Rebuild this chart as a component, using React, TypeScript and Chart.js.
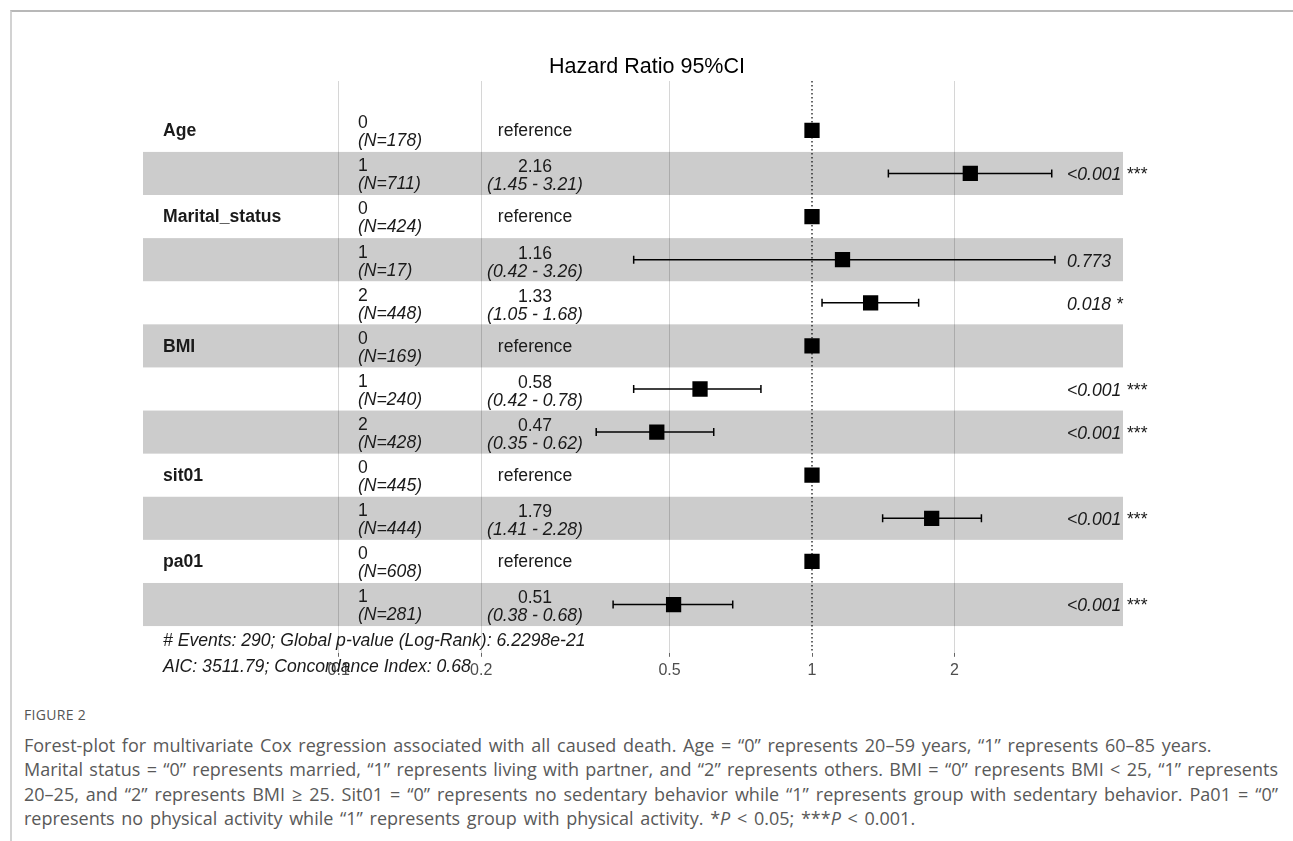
import React, { useEffect, useRef } from "react";
import { Chart, registerables } from "chart.js";

Chart.register(...registerables);

// ---------- data ----------
const varNames = ["Age", "", "Marital_status", "", "", "BMI", "", "", "sit01", "", "pa01", ""];
const levels = ["0", "1", "0", "1", "2", "0", "1", "2", "0", "1", "0", "1"];
const nCounts = [178, 711, 424, 17, 448, 169, 240, 428, 445, 444, 608, 281];
const hazardRatios = [1, 2.16, 1, 1.16, 1.33, 1, 0.58, 0.47, 1, 1.79, 1, 0.51];
const ciLow: (number | null)[] = [null, 1.45, null, 0.42, 1.05, null, 0.42, 0.35, null, 1.41, null, 0.38];
const ciHigh: (number | null)[] = [null, 3.21, null, 3.26, 1.68, null, 0.78, 0.62, null, 2.28, null, 0.68];
const pValues = ["", "<0.001", "", "0.773", "0.018", "", "<0.001", "<0.001", "", "<0.001", "", "<0.001"];
const stars = ["", "***", "", "", "*", "", "***", "***", "", "***", "", "***"];
const tickValues = [0.1, 0.2, 0.5, 1, 2];
const tickLabels = ["0.1", "0.2", "0.5", "1", "2"];
const titleText = "Hazard Ratio 95%CI";
const footerLines = [
  "# Events: 290; Global p-value (Log-Rank): 6.2298e-21",
  "AIC: 3511.79; Concordance Index: 0.68",
];

const X_MIN = 0.0386;
const X_MAX = 4.54;
const Y_MIN = -1.145;
const Y_MAX = 12.12;

const FONT = '"Liberation Sans", Arial, sans-serif';
const FS = 17.6;

export default function App() {
  const canvasRef = useRef<HTMLCanvasElement | null>(null);

  useEffect(() => {
    const canvas = canvasRef.current;
    if (!canvas) return;

    const rows = hazardRatios.map((_, i) => i);

    const ciDatasets: any[] = rows
      .filter((i) => ciLow[i] != null && ciHigh[i] != null)
      .map((i) => ({
        type: "line",
        data: [
          { x: ciLow[i], y: i },
          { x: ciHigh[i], y: i },
        ],
        showLine: true,
        borderColor: "#000",
        borderWidth: 1.5,
        pointStyle: "line",
        rotation: 90,
        pointRadius: 4,
        pointBorderWidth: 1.5,
        pointBorderColor: "#000",
        pointBackgroundColor: "#000",
        order: 1,
      }));

    const bandPlugin = {
      id: "bands",
      beforeDatasetsDraw(chart: any) {
        const { ctx, chartArea, scales } = chart;
        const y = scales.y;
        ctx.save();
        ctx.fillStyle = "rgba(0,0,0,0.2)";
        rows.forEach((i) => {
          if (i % 2 === 1) {
            const top = y.getPixelForValue(i - 0.5);
            const bot = y.getPixelForValue(i + 0.5);
            ctx.fillRect(chartArea.left, top, chartArea.right - chartArea.left, bot - top);
          }
        });
        ctx.restore();
      },
    };

    const textPlugin = {
      id: "tableText",
      afterDraw(chart: any) {
        const { ctx, chartArea, scales } = chart;
        const y = scales.y;
        const L = chartArea.left;
        const xVar = L + 20;
        const xLevel = L + 215;
        const xEst = L + 392;
        const xP = L + 924;
        ctx.save();
        ctx.textBaseline = "middle";
        ctx.fillStyle = "#1a1a1a";
        rows.forEach((i) => {
          const cy = y.getPixelForValue(i);
          if (varNames[i]) {
            ctx.font = `bold ${FS}px ${FONT}`;
            ctx.textAlign = "left";
            ctx.fillText(varNames[i], xVar, cy + 1);
          }
          ctx.textAlign = "left";
          ctx.font = `${FS}px ${FONT}`;
          ctx.fillText(levels[i], xLevel, cy - 7);
          ctx.font = `italic ${FS}px ${FONT}`;
          ctx.fillText(`(N=${nCounts[i]})`, xLevel, cy + 11);
          ctx.textAlign = "center";
          if (ciLow[i] == null) {
            ctx.font = `${FS}px ${FONT}`;
            ctx.fillText("reference", xEst, cy + 1);
          } else {
            ctx.font = `${FS}px ${FONT}`;
            ctx.fillText(hazardRatios[i].toFixed(2), xEst, cy - 6);
            ctx.font = `italic ${FS}px ${FONT}`;
            ctx.fillText(`(${(ciLow[i] as number).toFixed(2)} - ${(ciHigh[i] as number).toFixed(2)})`, xEst, cy + 12);
          }
          if (pValues[i]) {
            ctx.textAlign = "left";
            ctx.font = `italic ${FS}px ${FONT}`;
            ctx.fillText(`${pValues[i]} ${stars[i]}`.trim(), xP, cy + 2);
          }
        });
        // footer
        ctx.textAlign = "left";
        ctx.font = `italic ${FS}px ${FONT}`;
        const yb = y.getPixelForValue(rows.length - 0.5);
        ctx.fillText(footerLines[0], xVar, yb + 15);
        ctx.fillText(footerLines[1], xVar, yb + 41);
        // title
        ctx.textAlign = "center";
        ctx.font = `21.5px ${FONT}`;
        ctx.fillStyle = "#000";
        ctx.fillText(titleText, 647, 67);
        ctx.restore();
      },
    };

    const chart = new Chart(canvas, {
      type: "scatter",
      data: {
        datasets: [
          {
            type: "scatter",
            data: rows.map((i) => ({ x: hazardRatios[i], y: i })),
            pointStyle: "rect",
            pointRadius: 10.8,
            pointBackgroundColor: "#000",
            pointBorderColor: "#000",
            pointBorderWidth: 0,
            order: 0,
          } as any,
          ...ciDatasets,
          {
            type: "line",
            data: [
              { x: 1, y: Y_MIN },
              { x: 1, y: Y_MAX },
            ],
            showLine: true,
            borderColor: "#000",
            borderWidth: 1.2,
            borderDash: [1.5, 2.5],
            pointRadius: 0,
            order: 2,
          } as any,
        ],
      },
      options: {
        responsive: false,
        animation: false,
        devicePixelRatio: 1,
        layout: { padding: { left: 143, right: 170, top: 81, bottom: 16 } },
        plugins: { legend: { display: false }, tooltip: { enabled: false }, title: { display: false } },
        scales: {
          x: {
            type: "logarithmic",
            min: X_MIN,
            max: X_MAX,
            afterBuildTicks: (s: any) => {
              s.ticks = tickValues.map((v) => ({ value: v }));
            },
            ticks: {
              callback: (v: any) => {
                const idx = tickValues.indexOf(Number(v));
                return idx >= 0 ? tickLabels[idx] : "";
              },
              autoSkip: false,
              maxRotation: 0,
              color: "#4d4d4d",
              padding: 4,
              font: { family: FONT, size: 16 },
            },
            grid: {
              color: (ctx: any) => (ctx.tick && ctx.tick.value === 1 ? "rgba(0,0,0,0)" : "#d6d6d6"),
              tickColor: "#666",
              tickLength: 4,
              lineWidth: 1,
            },
            border: { display: false },
          },
          y: {
            type: "linear",
            reverse: true,
            min: Y_MIN,
            max: Y_MAX,
            display: false,
          },
        },
      } as any,
      plugins: [bandPlugin, textPlugin],
    });

    return () => chart.destroy();
  }, []);

  const captionFont = '"Open Sans", "Noto Sans", sans-serif';
  const lineStyle: React.CSSProperties = {
    position: "absolute",
    left: 24,
    width: 1254,
    height: 24.3,
    lineHeight: "24.3px",
    fontFamily: captionFont,
    fontSize: 18,
    wordSpacing: 2,
    color: "#595959",
    whiteSpace: "nowrap",
  };
  const justified: React.CSSProperties = {
    ...lineStyle,
    wordSpacing: 0,
    textAlign: "justify",
    textAlignLast: "justify",
    whiteSpace: "normal",
  };

  return (
    <div style={{ position: "absolute", left: 0, top: 0, width: 1293, height: 841, background: "#fff", overflow: "hidden" }}>
      <div
        style={{
          position: "absolute",
          left: 10,
          top: 10,
          width: 1283,
          height: 831,
          borderTop: "2px solid #b8b8b8",
          borderLeft: "2px solid #d2d2d2",
          boxSizing: "border-box",
        }}
      />
      <canvas ref={canvasRef} width={1293} height={700} style={{ position: "absolute", left: 0, top: 0, width: 1293, height: 700 }} />
      <div
        style={{
          position: "absolute",
          left: 24,
          top: 706,
          fontFamily: captionFont,
          fontSize: 14,
          letterSpacing: 0.3,
          color: "#555",
          lineHeight: "18px",
        }}
      >
        FIGURE 2
      </div>
      <div style={{ ...lineStyle, top: 733 }}>
        Forest-plot for multivariate Cox regression associated with all caused death. Age = “0” represents 20–59 years, “1” represents 60–85 years.
      </div>
      <div style={{ ...justified, top: 757.3 }}>
        Marital status = “0” represents married, “1” represents living with partner, and “2” represents others. BMI = “0” represents BMI &lt; 25, “1” represents
      </div>
      <div style={{ ...justified, top: 781.6 }}>
        20–25, and “2” represents BMI ≥ 25. Sit01 = “0” represents no sedentary behavior while “1” represents group with sedentary behavior. Pa01 = “0”
      </div>
      <div style={{ ...lineStyle, top: 805.9 }}>
        represents no physical activity while “1” represents group with physical activity. *<i>P</i> &lt; 0.05; ***<i>P</i> &lt; 0.001.
      </div>
    </div>
  );
}
